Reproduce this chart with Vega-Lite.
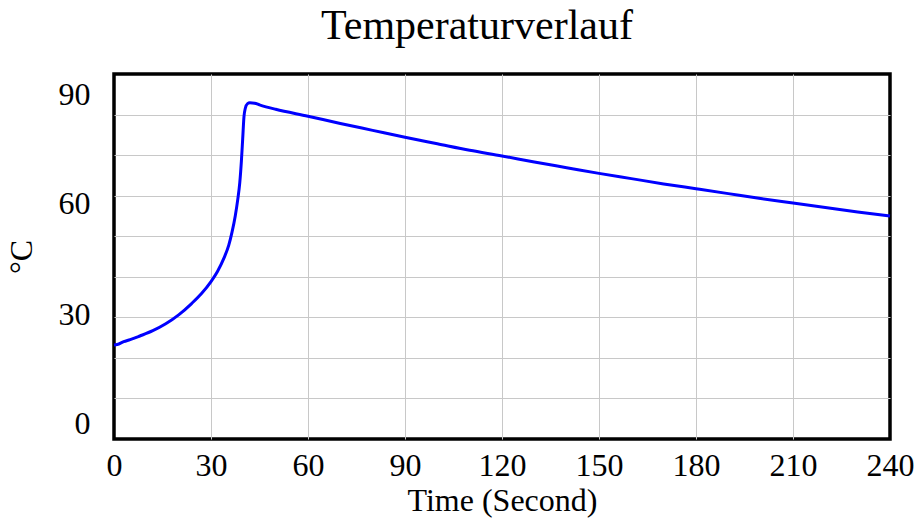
{
  "$schema": "https://vega.github.io/schema/vega-lite/v6.json",
  "width": 776,
  "height": 365,
  "autosize": {"type": "none"},
  "padding": {"left": 114, "top": 74, "right": 24, "bottom": 79},
  "background": "white",
  "title": {
    "text": "Temperaturverlauf",
    "font": "Liberation Serif",
    "fontSize": 42,
    "fontWeight": "normal",
    "color": "black",
    "anchor": "middle",
    "frame": "group",
    "baseline": "alphabetic",
    "offset": 31,
    "dx": -25,
    "dy": 38
  },
  "data": {
    "values": [
      {"t": 0, "v": 23.2},
      {"t": 1, "v": 23.3},
      {"t": 3, "v": 24.0},
      {"t": 5, "v": 24.5},
      {"t": 8, "v": 25.4},
      {"t": 12, "v": 26.7},
      {"t": 16, "v": 28.4},
      {"t": 20, "v": 30.6},
      {"t": 24, "v": 33.4},
      {"t": 27, "v": 35.8},
      {"t": 30, "v": 38.8},
      {"t": 32, "v": 41.3},
      {"t": 34, "v": 44.6},
      {"t": 35.5, "v": 47.8},
      {"t": 36.5, "v": 51.0},
      {"t": 37.5, "v": 55.0},
      {"t": 38.3, "v": 59.2},
      {"t": 38.9, "v": 63.2},
      {"t": 39.4, "v": 68.5},
      {"t": 39.8, "v": 74.0},
      {"t": 40.2, "v": 79.5},
      {"t": 40.6, "v": 81.5},
      {"t": 41.3, "v": 82.7},
      {"t": 42, "v": 82.9},
      {"t": 43.5, "v": 82.8},
      {"t": 45, "v": 82.4},
      {"t": 50, "v": 81.3},
      {"t": 60, "v": 79.6},
      {"t": 70, "v": 77.8},
      {"t": 80, "v": 76.1},
      {"t": 90, "v": 74.4},
      {"t": 100, "v": 72.8},
      {"t": 110, "v": 71.2},
      {"t": 120, "v": 69.8},
      {"t": 130, "v": 68.3},
      {"t": 140, "v": 66.9},
      {"t": 150, "v": 65.5},
      {"t": 160, "v": 64.2},
      {"t": 170, "v": 62.9},
      {"t": 180, "v": 61.7},
      {"t": 190, "v": 60.5},
      {"t": 200, "v": 59.3},
      {"t": 210, "v": 58.2},
      {"t": 220, "v": 57.1},
      {"t": 230, "v": 56.0},
      {"t": 240, "v": 55.0}
    ]
  },
  "mark": {"type": "line", "color": "#0000FF", "strokeWidth": 3, "interpolate": "monotone"},
  "encoding": {
    "x": {
      "field": "t",
      "type": "quantitative",
      "scale": {"domain": [0, 240], "nice": false, "zero": false},
      "axis": {
        "values": [0, 30, 60, 90, 120, 150, 180, 210, 240],
        "title": "Time (Second)",
        "grid": true,
        "gridOpacity": {"condition": {"test": "datum.value == 0 || datum.value == 240", "value": 0}, "value": 1},
        "domain": false,
        "ticks": false,
        "labelPadding": 11,
        "labelFlush": false,
        "labelOverlap": false,
        "titlePadding": 4
      }
    },
    "y": {
      "field": "v",
      "type": "quantitative",
      "scale": {"domain": [0, 90], "nice": false},
      "axis": {
        "values": [0, 10, 20, 30, 40, 50, 60, 70, 80, 90],
        "labelExpr": "datum.value % 30 == 0 ? datum.label : ''",
        "title": "°C",
        "grid": true,
        "gridOpacity": {"condition": {"test": "datum.value == 0 || datum.value == 90", "value": 0}, "value": 1},
        "domain": false,
        "ticks": false,
        "labelPadding": 24,
        "labelBaseline": "middle",
        "labelFlush": false,
        "labelOverlap": false,
        "labelOffset": {"expr": "datum.value == 90 ? 20 : datum.value == 60 ? 8 : datum.value == 30 ? -3 : datum.value == 0 ? -16 : 0"},
        "titlePadding": 20
      }
    }
  },
  "config": {
    "view": {"stroke": "black", "strokeWidth": 3.5},
    "axis": {
      "labelFont": "Liberation Serif",
      "labelFontSize": 32,
      "labelColor": "black",
      "titleFont": "Liberation Serif",
      "titleFontSize": 32,
      "titleFontWeight": "normal",
      "titleColor": "black",
      "gridColor": "#c8c8c8",
      "gridWidth": 1
    }
  }
}
